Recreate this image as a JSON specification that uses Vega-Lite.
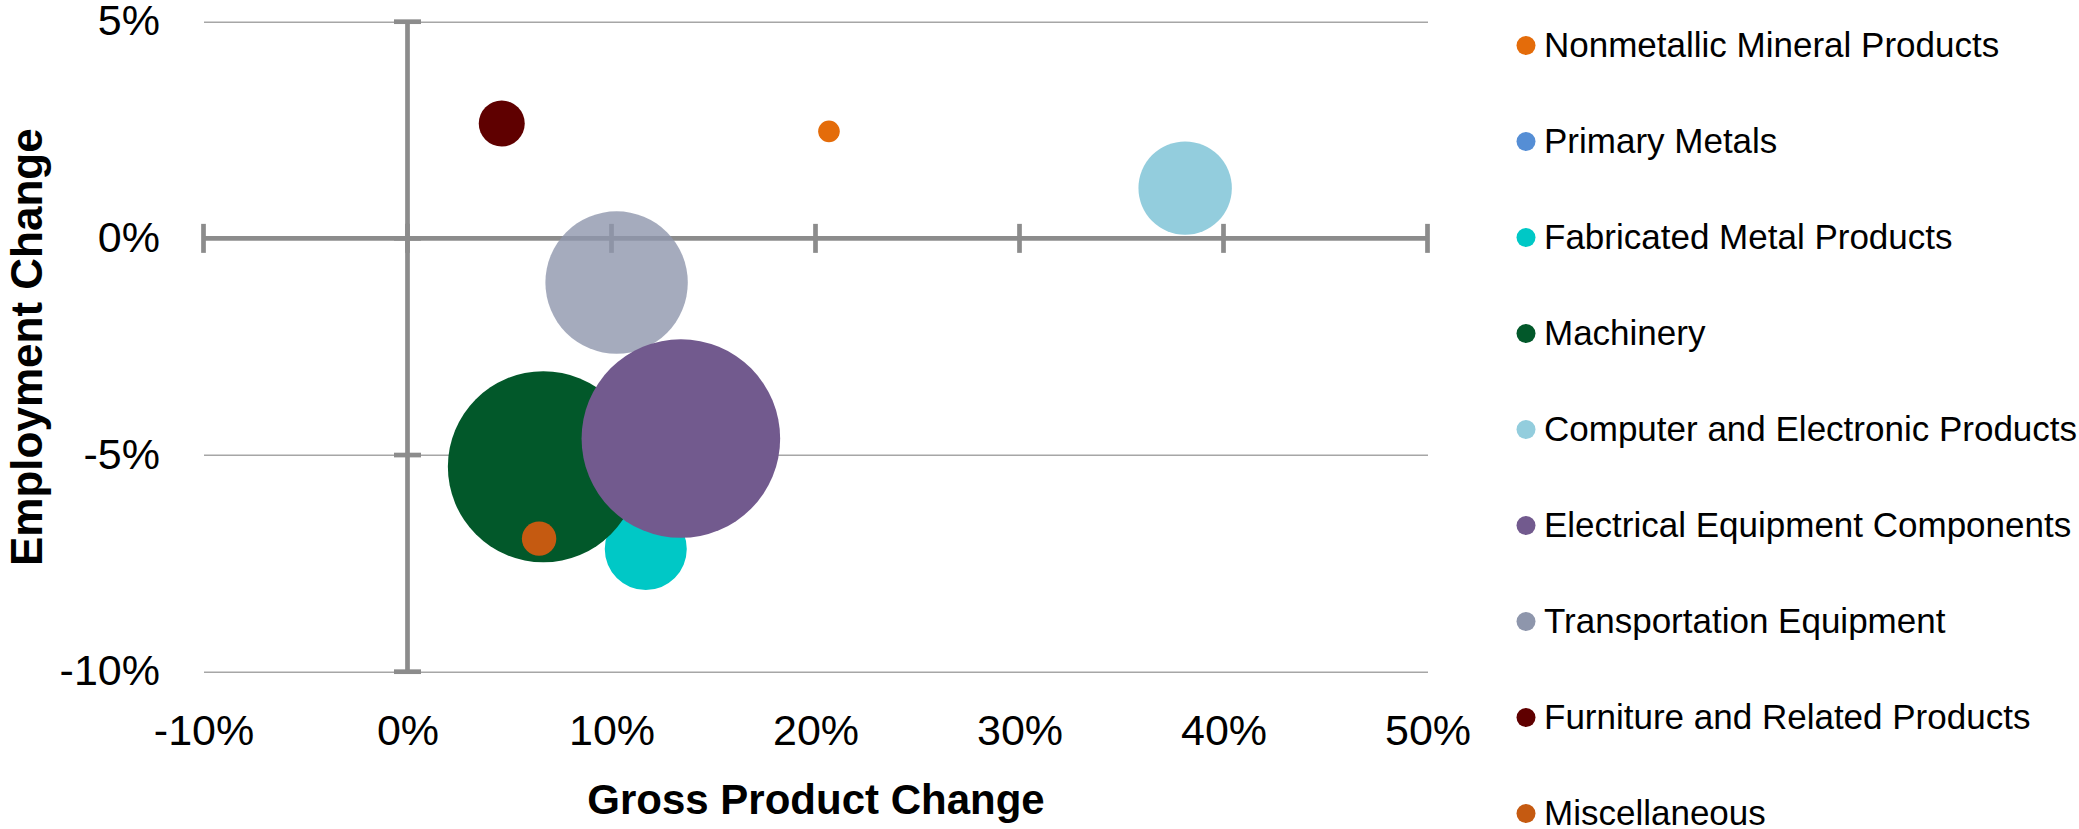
{
  "$schema": "https://vega.github.io/schema/vega-lite/v6.json",
  "autosize": {"type": "none"},
  "padding": {"left": 203.5, "top": 21.7, "right": 651.5, "bottom": 157.3},
  "width": 1224,
  "height": 650,
  "background": "white",
  "config": {"view": {"stroke": null}, "font": "Liberation Sans"},
  "datasets": {
    "industries": [
      {"industry": "Nonmetallic Mineral Products", "gp": 0.2066, "emp": 0.0247, "weight": 117},
      {"industry": "Primary Metals", "gp": null, "emp": null, "weight": null},
      {"industry": "Fabricated Metal Products", "gp": 0.1168, "emp": -0.0717, "weight": 1681},
      {"industry": "Machinery", "gp": 0.0666, "emp": -0.0527, "weight": 9120},
      {"industry": "Computer and Electronic Products", "gp": 0.3812, "emp": 0.0116, "weight": 2181},
      {"industry": "Transportation Equipment", "gp": 0.1025, "emp": -0.0102, "weight": 5070},
      {"industry": "Electrical Equipment Components", "gp": 0.134, "emp": -0.0462, "weight": 9860},
      {"industry": "Furniture and Related Products", "gp": 0.0462, "emp": 0.0265, "weight": 529},
      {"industry": "Miscellaneous", "gp": 0.0645, "emp": -0.0693, "weight": 296}
    ],
    "xTicks": [
      {"gp": -0.1, "emp": 0}, {"gp": 0, "emp": 0}, {"gp": 0.1, "emp": 0},
      {"gp": 0.2, "emp": 0}, {"gp": 0.3, "emp": 0}, {"gp": 0.4, "emp": 0},
      {"gp": 0.5, "emp": 0}
    ],
    "yTicks": [
      {"gp": 0, "emp": 0.05}, {"gp": 0, "emp": 0}, {"gp": 0, "emp": -0.05}, {"gp": 0, "emp": -0.1}
    ]
  },
  "encoding": {
    "x": {
      "field": "gp",
      "type": "quantitative",
      "scale": {"domain": [-0.1, 0.5], "nice": false, "zero": false},
      "axis": {
        "title": "Gross Product Change",
        "values": [-0.1, 0, 0.1, 0.2, 0.3, 0.4, 0.5],
        "labelExpr": "replace(format(datum.value, '.0%'), '\u2212', '-')",
        "grid": false,
        "domain": false,
        "ticks": false,
        "tickSize": 0,
        "labelPadding": 39,
        "labelFont": "Liberation Sans",
        "labelFontSize": 43,
        "labelColor": "#000000",
        "labelFlush": false,
        "labelOverlap": false,
        "titleFont": "Liberation Sans",
        "titleFontSize": 42,
        "titleFontWeight": "bold",
        "titleColor": "#000000",
        "titleBaseline": "alphabetic",
        "titleY": 141.3
      }
    },
    "y": {
      "field": "emp",
      "type": "quantitative",
      "scale": {"domain": [-0.1, 0.05], "nice": false, "zero": false},
      "axis": {
        "title": "Employment Change",
        "values": [-0.1, -0.05, 0, 0.05],
        "labelExpr": "replace(format(datum.value, '.0%'), '\u2212', '-')",
        "grid": true,
        "gridColor": "#A6A6A6",
        "gridWidth": 1.5,
        "domain": false,
        "ticks": false,
        "tickSize": 0,
        "labelPadding": 44,
        "labelFont": "Liberation Sans",
        "labelFontSize": 43,
        "labelColor": "#000000",
        "labelFlush": false,
        "labelOverlap": false,
        "titleFont": "Liberation Sans",
        "titleFontSize": 44,
        "titleFontWeight": "bold",
        "titleColor": "#000000",
        "titleBaseline": "alphabetic",
        "titleX": -161.8
      }
    }
  },
  "layer": [
    {
      "data": {"values": [{"gp": -0.1, "gp2": 0.5, "emp": 0}]},
      "mark": {"type": "rule", "color": "#8C8C8C", "strokeWidth": 4.7},
      "encoding": {"x2": {"field": "gp2"}}
    },
    {
      "data": {"values": [{"gp": 0, "emp": 0.05, "emp2": -0.1}]},
      "mark": {"type": "rule", "color": "#8C8C8C", "strokeWidth": 4.7},
      "encoding": {"y2": {"field": "emp2"}}
    },
    {
      "data": {"name": "xTicks"},
      "mark": {"type": "tick", "orient": "vertical", "size": 29, "thickness": 4.7, "color": "#8C8C8C", "opacity": 1}
    },
    {
      "data": {"name": "yTicks"},
      "mark": {"type": "tick", "orient": "horizontal", "size": 27, "thickness": 4.7, "color": "#8C8C8C", "opacity": 1}
    },
    {
      "data": {"name": "industries"},
      "mark": {"type": "point", "filled": true, "shape": "circle", "strokeWidth": 0},
      "encoding": {
        "size": {
          "field": "weight",
          "type": "quantitative",
          "scale": {"type": "linear", "domain": [0, 10000], "range": [0, 40000], "zero": true},
          "legend": null
        },
        "color": {
          "field": "industry",
          "type": "nominal",
          "scale": {
            "domain": [
              "Nonmetallic Mineral Products",
              "Primary Metals",
              "Fabricated Metal Products",
              "Machinery",
              "Computer and Electronic Products",
              "Electrical Equipment Components",
              "Transportation Equipment",
              "Furniture and Related Products",
              "Miscellaneous"
            ],
            "range": [
              "#E46C0A",
              "#558ED5",
              "#00C8C6",
              "#02582A",
              "#93CDDD",
              "#725A8E",
              "#8E96AC",
              "#5F0000",
              "#C55A11"
            ]
          },
          "legend": {
            "title": null,
            "orient": "none",
            "legendX": 1305,
            "legendY": 5.8,
            "symbolType": "circle",
            "symbolSize": 361,
            "symbolStrokeWidth": 0,
            "symbolOpacity": 1,
            "labelFont": "Liberation Sans",
            "labelFontSize": 35,
            "labelColor": "#000000",
            "labelOffset": 0.5,
            "labelLimit": 1000,
            "rowPadding": 60,
            "clipHeight": 36,
            "padding": 0
          }
        },
        "opacity": {
          "condition": {"test": "datum.industry === 'Transportation Equipment'", "value": 0.8},
          "value": 1
        }
      }
    }
  ]
}
